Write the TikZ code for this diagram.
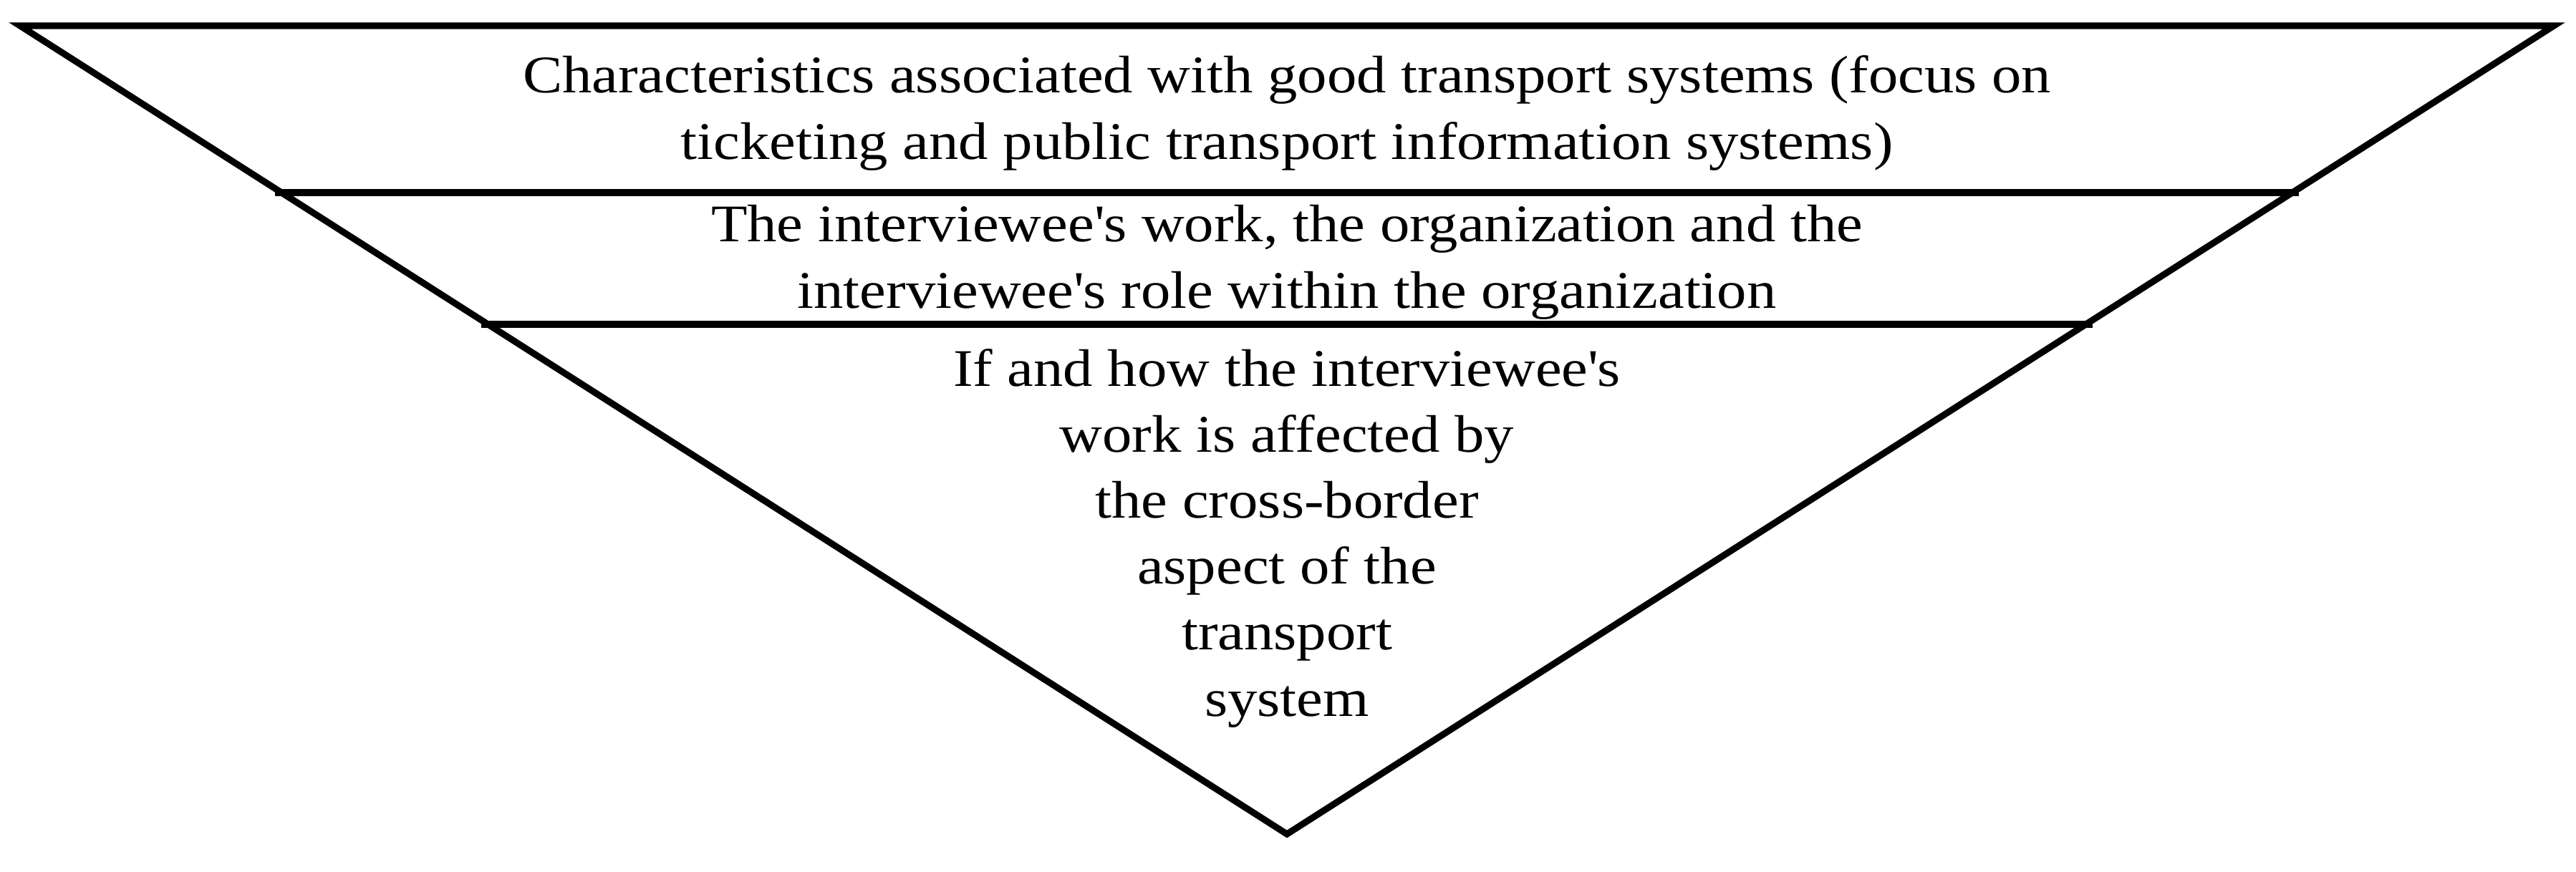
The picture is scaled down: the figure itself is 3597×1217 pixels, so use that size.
\documentclass[tikz,border=0pt]{standalone}
\usepackage{fontspec}
\setmainfont{Liberation Serif}[FakeStretch=1.12]
\usetikzlibrary{calc}
\tikzset{
    funnel/.style={line width=2.6pt,line join=miter},
    divider/.style={funnel,shorten <=-0.09cm,shorten >=-0.09cm},
    layertext/.style={align=center,anchor=base,inner sep=0pt,font=\fontsize{21}{26.2}\selectfont}
}
\begin{document}
\begin{tikzpicture}[x=0.01cm,y=-0.01cm]
    \useasboundingbox (0,0) rectangle (3597,1217);
    \coordinate (tl) at (28,36);
    \coordinate (tr) at (3566,36);
    \coordinate (apex) at (1797,1165);
    \draw[funnel] (tl) -- (tr) -- (apex) -- cycle;
    \foreach \lvl/\t in {1/0.2064,2/0.3694} {
        \coordinate (left\lvl) at ($(tl)!\t!(apex)$);
        \coordinate (right\lvl) at ($(tr)!\t!(apex)$);
        \draw[divider] (left\lvl) -- (right\lvl);
    }
    \node[layertext] (goodsys) at (1797,222) {Characteristics associated with good transport systems (focus on\\ticketing and public transport information systems)};
    \node[layertext] (role) at (1797,430) {The interviewee\textquotesingle s work, the organization and the\\interviewee\textquotesingle s role within the organization};
    \node[layertext] (border) at (1797,1000) {If and how the interviewee\textquotesingle s\\work is affected by\\the cross-border\\aspect of the\\transport\\system};
\end{tikzpicture}
\end{document}
